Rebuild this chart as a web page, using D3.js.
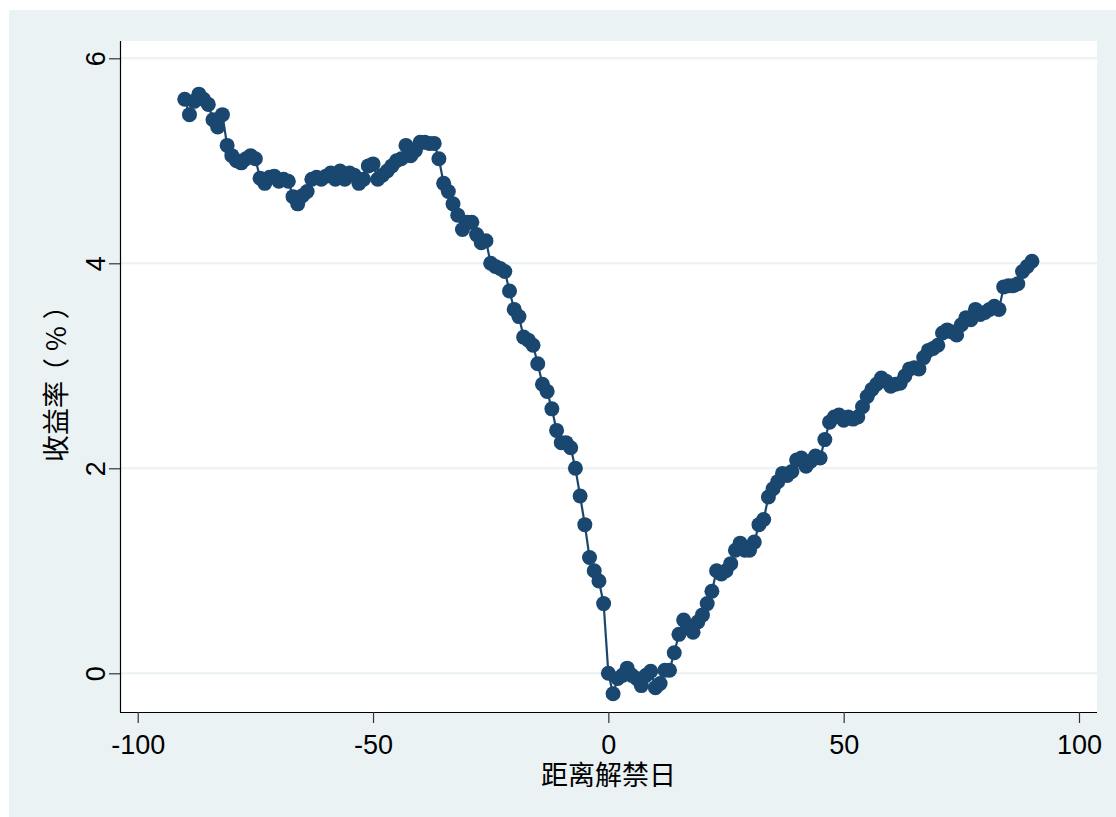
<!DOCTYPE html>
<html>
<head>
<meta charset="utf-8">
<script src="https://cdn.jsdelivr.net/npm/d3@7"></script>
<style>
  html, body { margin: 0; padding: 0; background: #ffffff; }
  svg { display: block; }
</style>
</head>
<body>
<svg id="chart" width="1116" height="817"></svg>
<script>
// Cumulative return (%) by day relative to the lock-up expiry date
const dayStart = -90;
const returns = [
  5.60, 5.45, 5.58, 5.65, 5.60, 5.55, 5.40, 5.33, 5.45, 5.15,
  5.05, 5.00, 4.98, 5.02, 5.05, 5.02, 4.83, 4.78, 4.84, 4.85,
  4.80, 4.82, 4.80, 4.65, 4.58, 4.66, 4.70, 4.82, 4.84, 4.82,
  4.85, 4.88, 4.82, 4.90, 4.82, 4.88, 4.86, 4.78, 4.82, 4.95,
  4.97, 4.82, 4.86, 4.90, 4.95, 5.00, 5.02, 5.15, 5.05, 5.10,
  5.18, 5.18, 5.17, 5.17, 5.02, 4.78, 4.70, 4.58, 4.47, 4.33,
  4.40, 4.40, 4.28, 4.20, 4.22, 4.00, 3.97, 3.95, 3.92, 3.73,
  3.55, 3.48, 3.28, 3.25, 3.20, 3.02, 2.82, 2.75, 2.58, 2.37,
  2.25, 2.25, 2.20, 2.00, 1.73, 1.45, 1.13, 1.00, 0.90, 0.68,
  0.00, -0.20, -0.05, -0.02, 0.05, -0.02, -0.05, -0.12, -0.02, 0.02,
  -0.14, -0.10, 0.03, 0.03, 0.20, 0.38, 0.52, 0.45, 0.40, 0.50,
  0.57, 0.68, 0.80, 1.00, 0.97, 1.00, 1.07, 1.20, 1.27, 1.20,
  1.20, 1.28, 1.45, 1.50, 1.72, 1.80, 1.87, 1.95, 1.93, 1.97,
  2.08, 2.10, 2.02, 2.07, 2.12, 2.10, 2.28, 2.45, 2.50, 2.52,
  2.47, 2.50, 2.48, 2.50, 2.60, 2.70, 2.77, 2.82, 2.88, 2.85,
  2.80, 2.82, 2.83, 2.90, 2.97, 2.98, 2.97, 3.08, 3.15, 3.17,
  3.20, 3.32, 3.35, 3.33, 3.30, 3.40, 3.47, 3.45, 3.55, 3.50,
  3.52, 3.55, 3.58, 3.55, 3.77, 3.78, 3.78, 3.80, 3.92, 3.97,
  4.02
];
const days = returns.map((_, i) => dayStart + i);

const xTicks = [-100, -50, 0, 50, 100];
const yTicks = [0, 2, 4, 6];
const xTitle = "距离解禁日";
const yTitleParts = ["收益率", "（", "%", "）"];

const points = days.map((d, i) => ({ day: d, ret: returns[i] }));

const svg = d3.select("#chart");
const W = 1116, H = 817;
const plot = { left: 120, right: 1097, top: 41, bottom: 712 };

const navy = "#1a476f";
const gridColor = "#eaf2f3";
const latin = "'Liberation Sans', Arial, sans-serif";
const cjk = "'Noto Sans CJK SC', 'Liberation Sans', sans-serif";
const plain = d => String(d);   // hyphen-minus for negative labels

// Outer graph region and white plot region
svg.append("rect").attr("x", 9).attr("y", 10).attr("width", W - 9).attr("height", H - 10)
  .attr("fill", gridColor);
svg.append("rect").attr("x", plot.left).attr("y", plot.top)
  .attr("width", plot.right - plot.left).attr("height", plot.bottom - plot.top)
  .attr("fill", "#ffffff");

const x = d3.scaleLinear().domain([-100, 100]).range([137.7, 1079]);
const y = d3.scaleLinear().domain([0, 6]).range([673.3, 58.3]);

// Horizontal grid lines
svg.append("g").selectAll("line").data(yTicks).join("line")
  .attr("x1", plot.left).attr("x2", plot.right)
  .attr("y1", d => y(d)).attr("y2", d => y(d))
  .attr("stroke", gridColor).attr("stroke-width", 2);

// Y axis
const yAxis = svg.append("g").attr("transform", `translate(${plot.left},0)`)
  .call(d3.axisLeft(y).tickValues(yTicks).tickSize(11).tickPadding(0).tickFormat(plain));
yAxis.select(".domain").attr("d", `M0.5,${plot.top}V${plot.bottom}`).attr("stroke", "#000").attr("stroke-width", 1.2);
yAxis.selectAll(".tick line").attr("stroke", "#333").attr("stroke-width", 1.2);
yAxis.selectAll(".tick text")
  .attr("font-family", latin).attr("font-size", 27).attr("fill", "#000")
  .attr("text-anchor", "middle").attr("dy", 0).attr("x", 0)
  .attr("transform", "translate(-24,0) rotate(-90)")
  .attr("dominant-baseline", "central");

// X axis
const xAxis = svg.append("g").attr("transform", `translate(0,${plot.bottom})`)
  .call(d3.axisBottom(x).tickValues(xTicks).tickSize(11).tickPadding(0).tickFormat(plain));
xAxis.select(".domain").attr("d", `M${plot.left},0.5H${plot.right}`).attr("stroke", "#000").attr("stroke-width", 1.2);
xAxis.selectAll(".tick text")
  .attr("font-family", latin).attr("font-size", 27).attr("fill", "#000")
  .attr("dy", 0).attr("y", 42);
xAxis.selectAll(".tick line").attr("stroke", "#333").attr("stroke-width", 1.2);

// Connected line
const line = d3.line().x(d => x(d.day)).y(d => y(d.ret));
svg.append("path").datum(points)
  .attr("d", line).attr("fill", "none")
  .attr("stroke", navy).attr("stroke-width", 2.2);

// Markers
svg.append("g").selectAll("circle").data(points).join("circle")
  .attr("cx", d => x(d.day)).attr("cy", d => y(d.ret)).attr("r", 7.5)
  .attr("fill", navy);

// Axis titles
svg.append("text").attr("x", (plot.left + plot.right) / 2).attr("y", 785)
  .attr("text-anchor", "middle").attr("font-family", cjk).attr("font-size", 27)
  .attr("fill", "#000").text(xTitle);

const yTitle = svg.append("text")
  .attr("transform", `translate(66,462) rotate(-90)`)
  .attr("text-anchor", "start").attr("font-family", cjk).attr("font-size", 27)
  .attr("fill", "#000");
yTitle.selectAll("tspan").data(yTitleParts).join("tspan")
  .attr("dx", (d, i) => i === 0 ? 0 : (i === 1 ? -4 : 7))
  .text(d => d);
</script>
</body>
</html>
